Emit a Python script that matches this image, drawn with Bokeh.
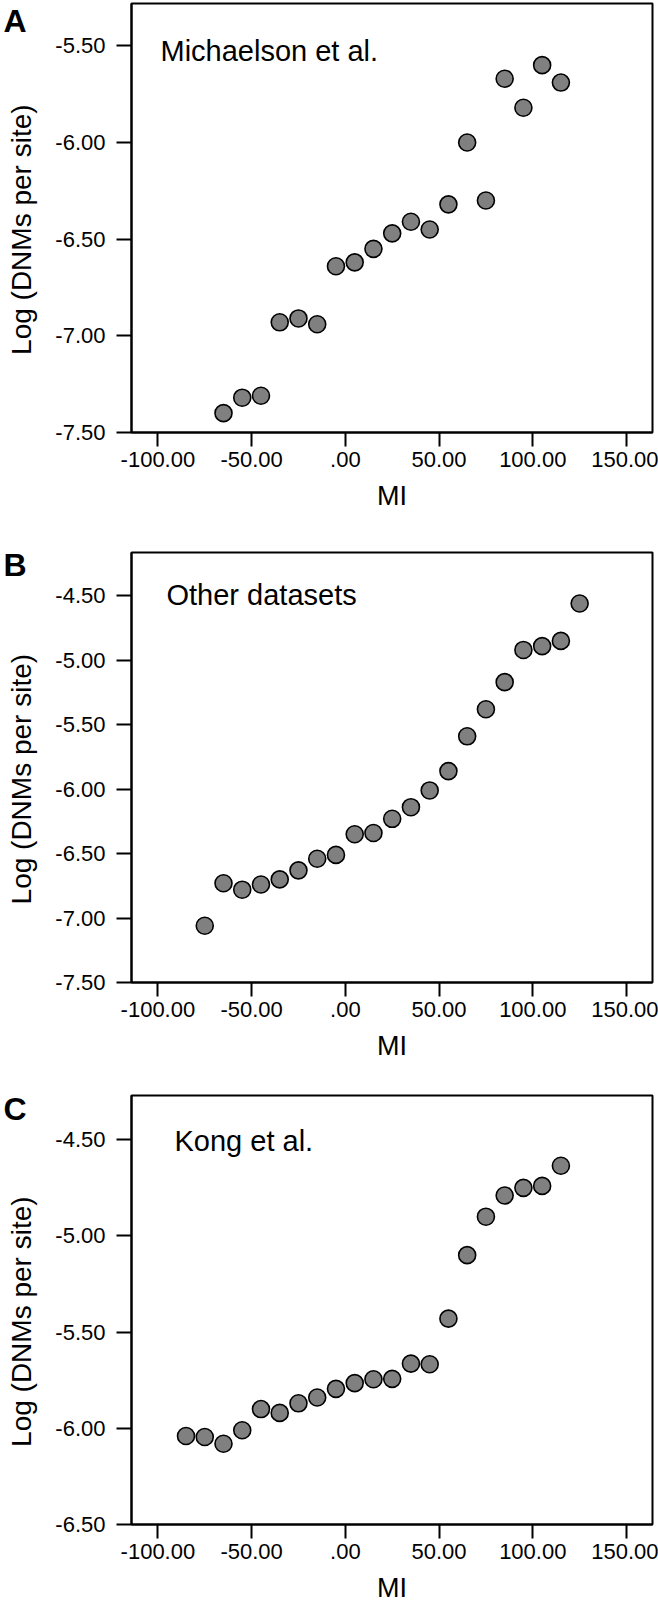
from bokeh.plotting import figure
from bokeh.layouts import column
from bokeh.models import Range1d, FixedTicker, Label, LinearAxis, ColumnDataSource
from bokeh.embed import file_html
from bokeh.resources import INLINE

# ---------------- data ----------------
MI_TICKS = [-100, -50, 0, 50, 100, 150]
MI_TICK_LABELS = ["-100.00", "-50.00", ".00", "50.00", "100.00", "150.00"]

mi_a = [-65, -55, -45, -35, -25, -15, -5, 5, 15, 25, 35, 45, 55, 65, 75, 85, 95, 105, 115]
log_a = [-7.40, -7.32, -7.31, -6.93, -6.91, -6.94, -6.64, -6.62, -6.55, -6.47,
         -6.41, -6.45, -6.32, -6.00, -6.30, -5.67, -5.82, -5.60, -5.69]
yticks_a = [-7.5, -7.0, -6.5, -6.0, -5.5]
ylabels_a = ["-7.50", "-7.00", "-6.50", "-6.00", "-5.50"]

mi_b = [-75, -65, -55, -45, -35, -25, -15, -5, 5, 15, 25, 35, 45, 55, 65, 75, 85, 95, 105, 115, 125]
log_b = [-7.06, -6.73, -6.78, -6.74, -6.70, -6.63, -6.54, -6.51, -6.35, -6.34, -6.23,
         -6.14, -6.01, -5.86, -5.59, -5.38, -5.17, -4.92, -4.89, -4.85, -4.56]
yticks_b = [-7.5, -7.0, -6.5, -6.0, -5.5, -5.0, -4.5]
ylabels_b = ["-7.50", "-7.00", "-6.50", "-6.00", "-5.50", "-5.00", "-4.50"]

mi_c = [-85, -75, -65, -55, -45, -35, -25, -15, -5, 5, 15, 25, 35, 45, 55, 65, 75, 85, 95, 105, 115]
log_c = [-6.04, -6.045, -6.08, -6.01, -5.90, -5.92, -5.87, -5.84, -5.795, -5.765, -5.745,
         -5.743, -5.664, -5.667, -5.43, -5.10, -4.90, -4.79, -4.75, -4.74, -4.635]
yticks_c = [-6.5, -6.0, -5.5, -5.0, -4.5]
ylabels_c = ["-6.50", "-6.00", "-5.50", "-5.00", "-4.50"]

X_LABEL = "MI"
Y_LABEL = "Log (DNMs per site)"
FONT = "Liberation Sans"


def panel(xs, ys, yr, yticks, ylabels, note, letter, letter_at, h, top, bottom,
          note_x, note_y):
    p = figure(width=658, height=h,
               x_range=Range1d(-114.08, 163.87), y_range=Range1d(*yr),
               output_backend="svg", toolbar_location=None,
               min_border_left=125, min_border_right=6,
               min_border_top=top, min_border_bottom=bottom)
    p.grid.visible = False
    p.background_fill_color = "white"
    p.border_fill_color = "white"
    p.outline_line_color = "black"
    p.outline_line_width = 2
    p.outline_line_alpha = 1.0

    for ax in (p.xaxis[0], p.yaxis[0]):
        ax.axis_line_color = "black"
        ax.axis_line_width = 2
        ax.major_tick_line_color = "black"
        ax.major_tick_line_width = 2
        ax.major_tick_in = 0
        ax.minor_tick_line_color = None
        ax.major_label_text_font = FONT
        ax.major_label_text_font_size = "22px"
        ax.major_label_text_color = "black"
        ax.axis_label_text_font = FONT
        ax.axis_label_text_font_style = "normal"
        ax.axis_label_text_color = "black"

    xa = p.xaxis[0]
    xa.ticker = FixedTicker(ticks=MI_TICKS)
    xa.major_label_overrides = dict(zip(MI_TICKS, MI_TICK_LABELS))
    xa.major_tick_out = 14
    xa.major_label_standoff = 5
    xa.axis_label = X_LABEL
    xa.axis_label_text_font_size = "27px"
    xa.axis_label_standoff = 11

    ya = p.yaxis[0]
    ya.ticker = FixedTicker(ticks=yticks)
    ya.major_label_overrides = dict(zip(yticks, ylabels))
    ya.major_tick_out = 15
    ya.major_label_standoff = 11
    # trailing no-break spaces nudge the centred label slightly downward, as in the original
    ya.axis_label = Y_LABEL + "\u00a0\u00a0\u00a0"
    ya.axis_label_text_font_size = "28px"
    ya.axis_label_standoff = 15

    # panel letter: a bare outer axis carrying one bold label, zero width
    la = LinearAxis(ticker=FixedTicker(ticks=[letter_at]),
                    major_label_overrides={letter_at: letter},
                    axis_line_color=None, major_tick_line_color=None,
                    minor_tick_line_color=None, major_tick_out=0, major_tick_in=0,
                    major_label_standoff=-23,
                    major_label_text_font=FONT, major_label_text_font_size="32px",
                    major_label_text_font_style="bold", major_label_text_color="black")
    p.add_layout(la, "left")

    src = ColumnDataSource(data=dict(x=xs, y=ys))
    p.scatter("x", "y", source=src, size=17, fill_color="#808080",
              line_color="black", line_width=1.6)

    p.add_layout(Label(x=note_x, y=note_y, x_units="screen", y_units="screen",
                       text=note, text_font=FONT, text_font_size="29px",
                       text_color="black", text_baseline="alphabetic"))
    return p


pa = panel(mi_a, log_a, (-7.5, -5.281), yticks_a, ylabels_a, "Michaelson et al.", "A", -5.345,
           540, 3, 108, 29, 382)
pb = panel(mi_b, log_b, (-7.5, -4.164), yticks_b, ylabels_b, "Other datasets", "B", -4.258,
           543, 12, 101, 35, 387.5)
pc = panel(mi_c, log_c, (-6.5, -4.270), yticks_c, ylabels_c, "Kong et al.", "C", -4.340,
           522, 12, 80, 43, 384)

layout = column(pa, pb, pc, spacing=0)
open("out.html", "w").write(file_html(layout, INLINE))
